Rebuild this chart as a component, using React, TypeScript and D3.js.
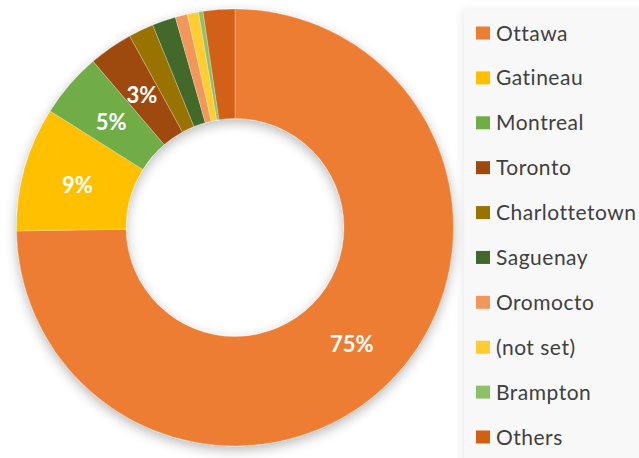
import React from "react";
import * as d3 from "d3";

const categories = ["Ottawa", "Gatineau", "Montreal", "Toronto", "Charlottetown", "Saguenay", "Oromocto", "(not set)", "Brampton", "Others"];
const values = [74.75, 9.2, 4.8, 3.25, 1.86, 1.74, 0.9, 0.83, 0.33, 2.34];
const colors = ["#ED7D31", "#FFC000", "#70AD47", "#9E480E", "#997300", "#43682B", "#F1975A", "#FFCD33", "#8CC168", "#D26012"];
const labelMin = 3;

const W = 639, H = 458;
const cx = 235, cy = 227.5, rOuter = 218.5, rInner = 109;

export default function App() {
  const total = d3.sum(values);
  const pie = d3.pie<number>().sort(null).value((d) => d)(values);
  const arc = d3.arc<d3.PieArcDatum<number>>().innerRadius(rInner).outerRadius(rOuter);
  const labelArc = d3.arc<d3.PieArcDatum<number>>().innerRadius((rInner + rOuter) / 2).outerRadius((rInner + rOuter) / 2);
  const legendY = d3.scalePoint<string>().domain(categories).range([33, 437]);
  return (
    <svg width={W} height={H} style={{ position: "absolute", left: 0, top: 0, background: "#fff" }}>
      <defs>
        <filter id="sh" x="-20%" y="-20%" width="140%" height="140%">
          <feDropShadow dx="0" dy="4" stdDeviation="6" floodColor="#000" floodOpacity="0.28" />
        </filter>
        <filter id="sh2" x="-20%" y="-5%" width="130%" height="110%">
          <feDropShadow dx="-2" dy="0" stdDeviation="4" floodColor="#000" floodOpacity="0.08" />
        </filter>
      </defs>
      <rect x={464} y={10} width={180} height={460} fill="#f8f8f8" filter="url(#sh2)" />
      <g transform={`translate(${cx},${cy})`}>
        <g filter="url(#sh)">
          {pie.map((p, i) => (
            <path key={i} d={arc(p) || ""} fill={colors[i]} stroke="#ffffff" strokeOpacity={0.35} strokeWidth={0.75} />
          ))}
        </g>
        {pie.map((p, i) => {
          const pct = (values[i] / total) * 100;
          if (pct < labelMin) return null;
          const [x, y] = labelArc.centroid(p);
          return (
            <text key={i} x={x} y={y + 2} dy="0.36em" textAnchor="middle" fill="#fff" fontFamily="Lato, 'Open Sans', sans-serif" fontWeight="bold" fontSize={22}>
              {Math.round(pct)}%
            </text>
          );
        })}
      </g>
      <g>
        {categories.map((c, i) => (
          <g key={c} transform={`translate(476,${legendY(c)})`}>
            <rect x={0} y={-6.5} width={14} height={13} fill={colors[i]} />
            <text x={20} y={0} dy="0.36em" fill="#404040" fontFamily="Lato, 'Open Sans', sans-serif" fontSize={21} letterSpacing={0.5}>{c}</text>
          </g>
        ))}
      </g>
    </svg>
  );
}
